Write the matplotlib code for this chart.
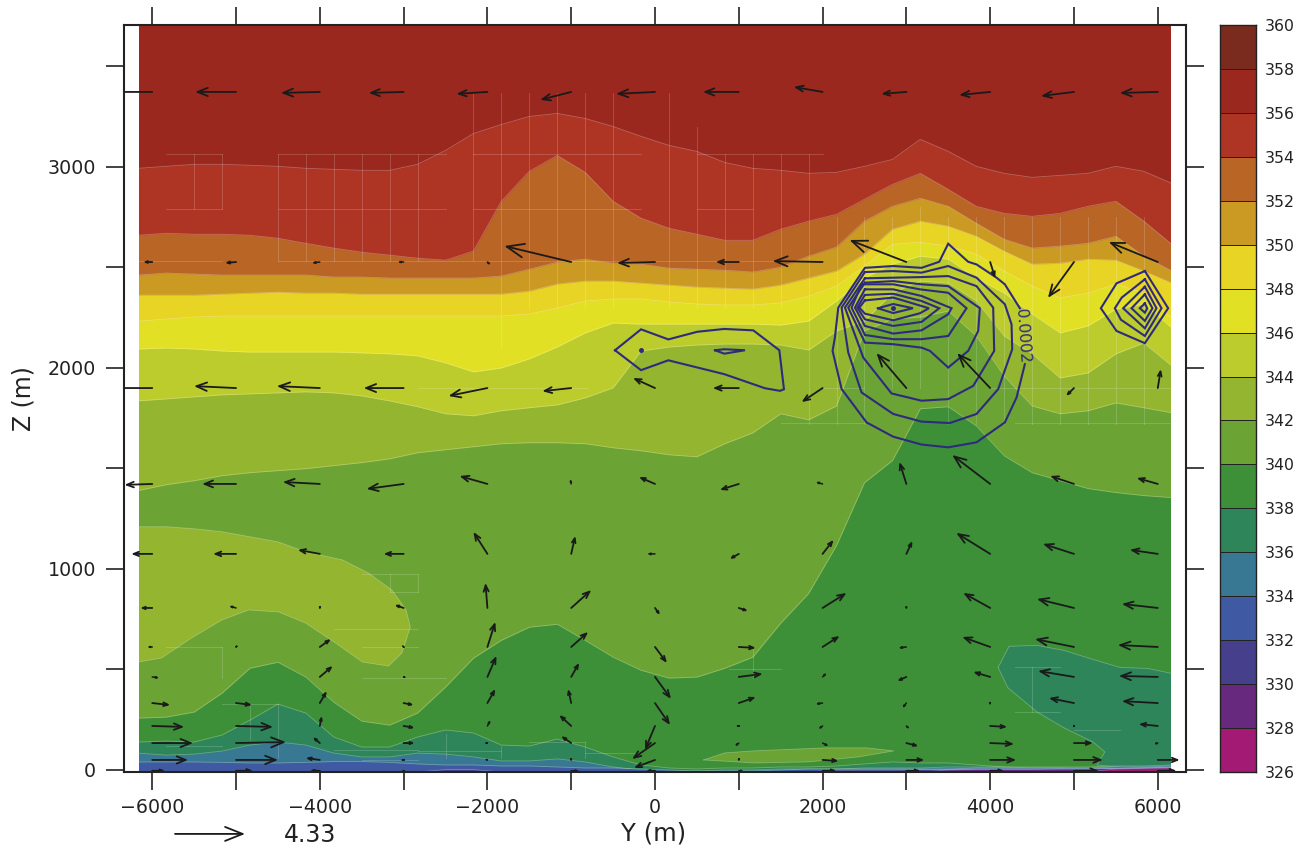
import numpy as np
import matplotlib
matplotlib.use("Agg")
import matplotlib.pyplot as plt
from matplotlib.colors import ListedColormap, BoundaryNorm

# ---------- colour-bar levels ----------
levels = list(range(326, 362, 2))
band_colors = ["#a31a75", "#67297e", "#46408c", "#3f59a3", "#387893", "#2d8559",
               "#3d9038", "#6ba334", "#93b52f", "#bbcc2c", "#e2e024", "#e8d424",
               "#cb9a22", "#b86525", "#ae3424", "#9b281e", "#7b2a1e"]

# ---------- isentrope heights (m) along Y ----------
grid_y = np.linspace(-6167, 6167, 38)
z_356 = [2993,3003,3013,3013,3008,3003,2993,2988,2983,2983,3013,3082,3166,3211,3251,3266,3241,3201,3152,3107,3077,3022,2993,2983,2968,2973,3003,3037,3137,3077,3003,2968,2948,2958,2968,3003,2978,2918]
z_354 = [2660,2670,2665,2665,2660,2645,2620,2596,2576,2561,2546,2536,2581,2829,2978,3057,2973,2829,2745,2695,2665,2635,2635,2690,2730,2764,2839,2913,2968,2888,2804,2769,2754,2769,2804,2829,2730,2615]
z_352 = [2462,2472,2467,2462,2462,2462,2462,2452,2452,2447,2447,2447,2447,2457,2491,2526,2541,2521,2516,2496,2491,2486,2477,2501,2556,2601,2730,2804,2844,2804,2720,2640,2596,2606,2620,2655,2556,2482]
z_350 = [2362,2362,2362,2367,2372,2377,2372,2372,2367,2367,2367,2367,2367,2367,2382,2417,2432,2432,2422,2412,2402,2397,2392,2412,2447,2482,2566,2690,2730,2705,2655,2581,2516,2521,2541,2536,2482,2422]
z_348 = [2233,2243,2253,2258,2258,2258,2258,2258,2258,2258,2258,2258,2258,2258,2268,2298,2333,2343,2343,2328,2318,2313,2313,2323,2357,2407,2506,2615,2625,2606,2566,2482,2407,2348,2372,2417,2372,2248]
z_346 = [2094,2099,2094,2084,2079,2079,2079,2079,2075,2070,2060,2025,1980,2000,2045,2104,2174,2223,2218,2218,2218,2218,2218,2213,2233,2333,2447,2516,2556,2541,2447,2372,2268,2174,2209,2293,2318,2199]
z_344 = [1836,1846,1856,1866,1871,1876,1881,1876,1861,1836,1807,1772,1762,1787,1802,1816,1851,1901,2084,2104,2114,2119,2119,2114,2089,2184,2233,2372,2432,2422,2333,2159,2070,1950,1975,2070,2124,2010]
z_342 = [1390,1419,1439,1464,1479,1489,1499,1514,1529,1548,1578,1593,1608,1623,1628,1628,1623,1603,1588,1568,1558,1623,1677,1772,1742,1811,2184,2243,2253,2283,2159,1960,1811,1772,1787,1826,1802,1777]
z_340 = [258,263,288,382,506,536,462,337,243,223,283,412,556,645,710,725,645,561,496,457,462,506,561,730,878,1117,1429,1539,1797,1807,1712,1563,1479,1439,1400,1380,1365,1355]
z_338 = [139,144,139,174,248,328,283,164,114,114,164,199,184,124,119,154,114,65,25,10,5,10,10,15,15,20,30,40,35,35,25,15,10,10,5,0,0,0]
z_336 = [84,74,79,94,124,139,124,84,65,65,84,79,65,45,45,55,40,15,0,-5,-5,0,0,5,5,5,10,10,10,15,15,15,15,15,15,20,20,25]
z_334 = [40,40,40,38,35,35,38,42,42,38,30,25,25,20,20,15,10,10,5,0,-5,-5,-5,0,5,5,5,5,5,5,10,10,10,10,10,15,15,20]
z_332 = [-10,-10,-10,-10,-10,-10,-10,-10,-10,-10,-10,2,2,-10,-10,-10,-10,-10,-10,-10,-10,-10,-10,-10,-10,0,0,0,2,2,5,5,5,5,5,8,10,15]
z_330 = [-10,-10,-10,-10,-10,-10,-10,-10,-10,-10,-10,-10,-10,-10,-10,-10,-10,-10,-10,-10,-10,-10,-10,-10,-10,-10,-10,-10,-10,0,3,3,3,5,5,8,10,12]
z_328 = [-10,-10,-10,-10,-10,-10,-10,-10,-10,-10,-10,-10,-10,-10,-10,-10,-10,-10,-10,-10,-10,-10,-10,-10,-10,-10,-10,-10,-10,-10,-10,-10,-10,-10,-10,5,8,10]

# closed pockets of the potential-temperature field: (Y, Z)
pocket_342 = [(-6167,1210),(-5833,1210),(-5500,1200),(-5167,1185),(-4833,1160),(-4500,1135),(-4167,1085),(-3730,1045),(-3420,980),(-3140,895),(-2970,796),(-2920,711),(-3020,582),(-3180,517),(-3490,537),(-3830,637),(-4170,731),(-4490,786),(-4850,796),(-5170,746),(-5530,657),(-5890,557),(-6167,537)]
lens_342 = [(580,50),(830,85),(1170,95),(2030,110),(2530,110),(2850,95),(2430,65),(1830,40),(1180,35)]
patch_338 = [(4095,510),(4225,615),(4555,620),(4880,595),(5225,550),(5550,510),(5885,505),(6167,480),(6167,-10),(5275,25),(5370,90),(5225,140),(4880,210),(4555,290),(4210,410)]

# faint cell-edge traces left in the shading: (Z, Y from, Y to) and (Y, Z from, Z to)
trace_h = [(3065,-5833,-5167),(3065,-4500,-2500),(3065,-2167,-167),(3065,500,2000),
           (2791,-5833,-5167),(2791,-4500,-2500),(2791,-2167,-167),(2791,500,1167),
           (2532,-6167,-5167),(2532,-4500,1833),(1900,-2833,-800),(1900,2000,2500),
           (1900,4000,6167),(1725,1500,2500),(1725,4300,6167),
           (975,-3500,-2833),(885,-3167,-2833),(612,-5833,-5167),(612,-3500,-2833),
           (460,-3500,-2500),(330,-5167,-4500),(120,-5833,-5167),(100,-3833,-2833),
           (95,-2833,-1833),(140,-1500,-833),(85,-833,-167),(50,-3500,-2833),
           (700,-3833,-2833),(500,880,1500),(510,4300,4833),(290,4300,4833),(200,5000,5550)]
trace_v = [(-5500,2791,3065),(-5167,2791,3065),(-4500,2532,3065),(-4167,2532,3065),(-3833,2532,3065),
           (-3500,2532,3065),(-3167,2532,3065),(-2833,2532,3065),(-2167,2532,3370),(-1833,2100,3370),
           (-1500,2300,3370),(-1167,2300,3370),(-833,2300,3370),(-500,2300,3370),(167,2300,3370),
           (500,2300,3200),(833,2300,3065),(1167,2300,3065),(1500,2300,3065),(1833,1720,3065),
           (2167,1720,2750),(2500,1720,2750),(2833,1900,2750),(3167,1900,2800),(3500,1720,2750),
           (3833,1720,2750),(4167,1720,2750),(4500,1720,2750),(4833,1720,2750),(5167,1720,2750),(5500,1720,2750),(5833,1720,2750),
           (-3167,885,975),(-2833,885,975),(-5167,460,612),(-4833,150,330),(-4500,60,330),
           (1167,460,612),(4500,290,510),(-2500,60,180),(-1833,60,120),(-833,60,140)]

# ---------- wind vectors ----------
arrow_key = 4.33
col_y = [-6000,-5000,-4000,-3000,-2000,-1000,0,1000,2000,3000,4000,5000,6000]
row_z = [3373,2527,1900,1423,1075,806,612,463,333,219,134,50,-4]
u_rows = [
 [-2.60,-2.53,-2.41,-2.16,-1.92,-1.92,-2.41,-2.22,-1.79,-1.55,-1.92,-2.04,-2.35],
 [-.56,-.68,-.49,-.37,.19,-4.14,-2.35,-1.42,-3.09,-3.52,.31,-1.61,-3.03],
 [-2.60,-2.60,-2.66,-2.47,-2.41,-1.79,-1.36,-1.61,-1.30,-1.85,-2.04,-.49,.19],
 [-1.72,-2.10,-2.29,-2.29,-1.73,-.06,-.99,-1.17,-.43,-.43,-2.35,-1.48,-1.30],
 [-1.30,-1.42,-1.36,-1.24,-.87,.25,-.49,-.56,.68,.37,-2.10,-1.92,-1.73],
 [-.74,-.43,0,-.56,-.12,1.24,.31,.56,1.48,0,-1.67,-2.29,-2.22],
 [-.31,-.06,.68,.06,.49,1.05,.74,1.05,1.05,-.49,-1.73,-2.41,-2.47],
 [.43,0,.80,.19,.56,.49,.99,1.48,.25,-.56,-1.05,-2.22,-2.41],
 [1.11,.99,.43,.62,.49,-.19,.93,1.05,-.43,-.25,0,-1.55,-2.22],
 [1.98,2.29,.12,.68,.19,-.74,-.62,.06,-.25,.19,1.05,-.06,-1.17],
 [2.53,3.09,-.43,.68,-.19,-.62,-1.42,-.25,.37,.74,1.48,1.17,-.25],
 [2.22,2.60,-.87,.06,-.19,0,-1.30,0,.99,1.11,1.61,1.79,1.36],
 [.80,1.05,-.62,-.12,0,.49,-.56,.31,.87,.87,.87,1.55,1.17],
]
w_rows = [
 [0,0,-.06,-.06,-.12,-.49,-.12,0,.31,-.12,-.19,-.25,-.06],
 [0,-.06,-.06,0,-.19,.99,-.06,0,.06,1.36,-.99,-2.22,1.24],
 [0,.12,.12,0,-.49,-.19,.62,0,-.87,2.16,2.16,-.49,1.17],
 [-.06,0,.12,-.31,.49,.31,.43,-.37,.12,1.36,1.79,.49,.37],
 [0,0,.25,0,1.36,1.11,0,-.31,.87,.80,1.30,.62,.25],
 [0,.12,.19,.19,1.55,1.11,-.43,-.19,.93,.19,.93,.56,.25],
 [0,-.06,.49,-.06,1.55,.93,-.99,-.06,.68,-.06,.62,.49,.12],
 [-.06,0,.68,-.06,1.30,.87,-1.36,.19,.25,-.25,.31,.37,.06],
 [-.12,-.12,.74,-.12,.87,.87,-1.36,.37,-.06,-.31,.12,.31,.12],
 [-.06,-.06,.62,-.12,.37,.68,-1.48,0,-.19,-.19,-.06,.12,.12],
 [0,.06,.37,0,0,.43,-.99,-.19,-.19,-.19,-.06,0,-.06],
 [0,0,.12,0,.06,.19,-.49,.19,-.06,0,0,0,0],
 [0,0,0,0,0,0,0,0,0,0,0,0,0],
]

# ---------- mixing-ratio contours (Y, Z) ----------
loop_open = [(4354,2297),(4175,2416),(4076,2449),(3837,2515),(3738,2528),(3499,2618),(3392,2528),(3181,2498),(2843,2507),(2505,2498),(2187,2300),(2147,2151),(2119,2085),(2227,1895),(2525,1729),(2843,1658),(3181,1619),(3499,1605),(3837,1630),(4175,1729),(4315,1853),(4414,2019)]
loop_2 = [(2505,2477),(2843,2482),(3181,2474),(3499,2507),(3837,2449),(4175,2317),(4255,2217),(4263,2093),(4096,1895),(3837,1771),(3519,1726),(3181,1733),(2843,1771),(2465,1878),(2306,2077),(2227,2300)]
loop_3 = [(2505,2446),(3181,2452),(3499,2457),(3837,2407),(4036,2300),(4048,2085),(3798,1911),(3499,1845),(3181,1837),(2823,1873),(2485,2052),(2267,2300)]
loop_4 = [(2505,2424),(2843,2432),(3181,2416),(3499,2407),(3877,2297),(3857,2184),(3738,2085),(3499,2002),(3281,2085),(3181,2101),(2843,2118),(2505,2126),(2306,2300)]
loop_5 = [(2465,2416),(2843,2416),(3161,2391),(3499,2374),(3718,2297),(3499,2159),(3181,2143),(2843,2143),(2505,2164),(2346,2300)]
loop_6 = [(2505,2391),(2843,2391),(3181,2358),(3539,2297),(3499,2267),(3181,2187),(2843,2171),(2505,2209),(2386,2300)]
loop_7 = [(2505,2363),(2843,2369),(3181,2333),(3392,2297),(3181,2229),(2843,2209),(2505,2242),(2414,2300)]
loop_8 = [(2505,2336),(2843,2350),(3181,2308),(3269,2297),(3161,2272),(2843,2237),(2505,2270),(2438,2300)]
loop_9 = [(2660,2297),(2843,2318),(3078,2297),(2843,2273)]
penta_1 = [(5846,2482),(5508,2421),(5321,2297),(5508,2184),(5846,2123),(6124,2297)]
penta_2 = [(5846,2441),(5570,2350),(5488,2297),(5560,2240),(5846,2159),(6045,2297)]
penta_3 = [(5846,2404),(5587,2297),(5846,2197),(5985,2297)]
penta_4 = [(5846,2366),(5687,2297),(5846,2234),(5937,2297)]
penta_5 = [(5846,2321),(5786,2297),(5846,2275),(5874,2297)]
mid_outer = [(-477,2088),(-167,2192),(159,2142),(505,2180),(827,2194),(1173,2187),(1484,2088),(1539,1894),(1492,1886),(1313,1899),(827,1969),(159,2038),(-167,1989)]
mid_inner = [(716,2088),(827,2093),(1074,2088),(827,2071)]
contour_dots = [(2835,2297),(-167,2088)]
closed_loops = [loop_2,loop_3,loop_4,loop_5,loop_6,loop_7,loop_8,loop_9,
                penta_1,penta_2,penta_3,penta_4,penta_5,mid_outer,mid_inner]

# ---------- tick labels ----------
x_major = [-6000,-4000,-2000,0,2000,4000,6000]
x_all = list(range(-6000, 7000, 1000))
y_major = [0,1000,2000,3000]
y_all = list(range(0, 4000, 500))

W, H, DPI = 1305, 851, 100
fig = plt.figure(figsize=(W/DPI, H/DPI), dpi=DPI)
plt.rcParams['font.family'] = 'DejaVu Sans'
INK = "#222222"
LINE = "#2e2a7e"
ax = fig.add_axes([124/W, 1-772/H, 1062/W, 747/H])
xlim = (-6337, 6337); ylim = (-10, 3706)
ax.set_xlim(*xlim); ax.set_ylim(*ylim)

bottom = ylim[0]
def col(lv):
    return band_colors[levels.index(lv)]

ax.fill_between(grid_y, bottom, ylim[1], color=col(356), lw=0, zorder=1)
def layer(z, lv, zo):
    ax.fill_between(grid_y, bottom, z, color=col(lv), lw=0, zorder=zo)
    ax.plot(grid_y, z, color="white", alpha=0.28, lw=0.6, zorder=zo)
def pocket(p, lv, zo):
    a = np.array(p)
    ax.fill(a[:,0], a[:,1], color=col(lv), lw=0, zorder=zo)
    ax.plot(np.r_[a[:,0],a[0,0]], np.r_[a[:,1],a[0,1]], color="white", alpha=0.28, lw=0.6, zorder=zo)

layer(z_356, 354, 2)
layer(z_354, 352, 3)
layer(z_352, 350, 4)
layer(z_350, 348, 5)
layer(z_348, 346, 6)
layer(z_346, 344, 7)
layer(z_344, 342, 8)
layer(z_342, 340, 9)
pocket(pocket_342, 342, 10)
layer(z_340, 338, 11)
pocket(lens_342, 340, 12)
pocket(patch_338, 336, 12)
layer(z_338, 336, 13)
layer(z_336, 334, 14)
layer(z_334, 332, 15)
layer(z_332, 330, 16)
layer(z_330, 328, 17)
layer(z_328, 326, 18)

# faint traces
for z0, y0, y1 in trace_h:
    ax.plot([y0, y1], [z0, z0], color="white", alpha=0.2, lw=0.6, zorder=19)
for y0, z0, z1 in trace_v:
    ax.plot([y0, y0], [z0, z1], color="white", alpha=0.2, lw=0.6, zorder=19)

# white margins either side of the shaded area (one pixel over the blended fill edges)
ax.axvspan(xlim[0], grid_y[0]+12, color="white", lw=0, zorder=20)
ax.axvspan(grid_y[-1]-12, xlim[1], color="white", lw=0, zorder=20)

# contours
def polyline(p, close=True):
    a = np.array(p)
    xs, ys = a[:,0], a[:,1]
    if close:
        xs, ys = np.r_[xs, xs[0]], np.r_[ys, ys[0]]
    ax.plot(xs, ys, color=LINE, lw=1.5, zorder=30, solid_joinstyle='miter')
polyline(loop_open, close=False)
for p in closed_loops:
    polyline(p)
d = np.array(contour_dots)
ax.plot(d[:,0], d[:,1], ls='none', marker='o', ms=2.5, color=LINE, zorder=30)
ax.text(4385, 2159, "0.0002", rotation=-86, color=LINE, fontsize=11.3,
        ha='center', va='center', zorder=31)

# vectors
ax_w_px = 1062; ax_h_px = 747
px_per_unit = 70/arrow_key
sx = px_per_unit*(xlim[1]-xlim[0])/ax_w_px
sz = px_per_unit*(ylim[1]-ylim[0])/ax_h_px
def vector(y, z, u, w, clip=True):
    L = np.hypot(u, w)*px_per_unit
    if L < 0.5:
        return
    hl = 0.25*L*0.72
    hw = 0.10*L*0.72
    lw = 1.3 if L > 8 else 1.1
    ann = ax.annotate("", xy=(y+u*sx, z+w*sz), xytext=(y, z), annotation_clip=False, zorder=40,
                      arrowprops=dict(arrowstyle=f"->,head_length={hl:.2f},head_width={hw:.2f}",
                                      color="#1a1a1a", lw=lw, shrinkA=0, shrinkB=0, mutation_scale=1))
    if clip:
        ann.arrow_patch.set_clip_box(ax.bbox)
        ann.arrow_patch.set_clip_on(True)
for zr, ur, wr in zip(row_z, u_rows, w_rows):
    for y0, u, w in zip(col_y, ur, wr):
        vector(y0, zr, u, w)
# key
vector(-5728, -318, arrow_key, 0, clip=False)
ax.text(-4435, -322, "4.33", fontsize=17, color=INK, va='center', ha='left')

# axes cosmetics
for s in ax.spines.values():
    s.set_linewidth(1.5); s.set_color(INK); s.set_zorder(50)
ax.set_xticks(x_all)
ax.set_xticklabels([("\u2212"+str(abs(v)) if v < 0 else str(v)) if v in x_major else "" for v in x_all])
ax.set_yticks(y_all)
ax.set_yticklabels([str(v) if v in y_major else "" for v in y_all])
ax.tick_params(axis='both', which='major', direction='out', length=13, width=1.2, color=INK,
               labelcolor=INK, labelsize=13.7, top=True, right=True, pad=6)
ax.tick_params(axis='y', pad=7)
ax.set_xlabel("Y (m)", fontsize=17.5, color=INK, labelpad=0)
ax.set_ylabel("Z (m)", fontsize=17, color=INK, labelpad=0)
ax.xaxis.set_label_coords((654-124)/1062, -(834-772)/747, transform=ax.transAxes)
ax.xaxis.label.set_va('center')
ax.yaxis.set_label_coords((24-124)/1062, (772-399)/747, transform=ax.transAxes)
ax.yaxis.label.set_va('center')

# colour bar
cax = fig.add_axes([1220/W, 1-772/H, 36/W, 747/H])
cmap = ListedColormap(band_colors)
norm = BoundaryNorm(levels, cmap.N)
cax.pcolormesh([0, 1], levels, np.array(levels[:-1]).reshape(-1, 1)+1, cmap=cmap, norm=norm,
               edgecolors="#222222", linewidth=0.6)
cax.set_xticks([])
cax.yaxis.tick_right()
cax.set_yticks(levels)
cax.set_ylim(326, 360)
cax.tick_params(axis='y', length=0, labelsize=11.3, labelcolor=INK, pad=6)
for s in cax.spines.values():
    s.set_linewidth(1.0); s.set_color(INK)

fig.savefig("out.png", dpi=DPI)
